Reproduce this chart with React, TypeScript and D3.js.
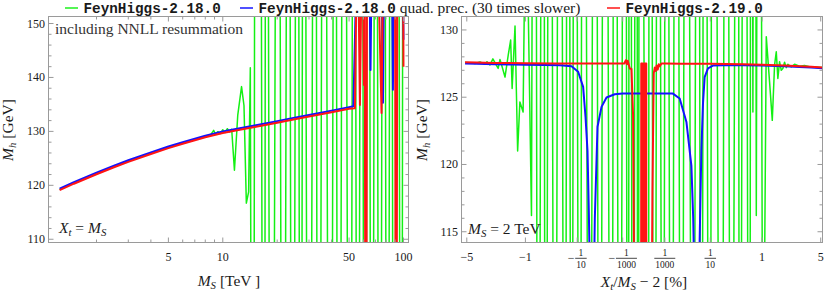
import {useEffect, useRef} from 'react';
import * as d3 from 'd3';

type Pt = [number, number];

// ---------- left panel: M_h [GeV] vs M_S [TeV], X_t = M_S ----------
const leftGreen: Pt[] = [
    [1.25, 119.25], [1.5, 120.45], [2, 122.2], [2.5, 123.5], [3, 124.5], [4, 125.95], [5, 127.05], [6, 127.85],
    [8, 129.05], [8.6, 129.45], [8.9, 130.2], [9.1, 129.5], [9.4, 129.95], [9.7, 129.6], [10.0, 130.3],
    [10.3, 129.8], [10.6, 130.5], [10.9, 129.9], [11.2, 130.4], [11.6, 122.8], [12.1, 133.0], [12.7, 138.3],
    [13.1, 134.8], [13.5, 116.7], [13.9, 118.8], [14.2, 141.8], [14.7, -50], [15.2, 300], [16.0, 300],
    [16.4, 137.4], [16.9, -50], [17.4, 300], [18.6, -50], [20.2, 300], [21.6, -50], [23.1, 300], [24.3, -50],
    [25.9, 300], [27.0, -50], [28.0, 300], [30.0, -50], [32.4, 300], [33.8, -50], [36.3, 300], [39.4, -50],
    [41.8, 300], [43.7, -50], [46.9, 300], [50.6, -50], [53.2, 300], [56.0, -50], [58.5, 300], [61.2, -50],
    [63.9, 300], [66.8, -50], [70.3, 300], [73.9, -50], [77.7, 300], [81.7, -50], [85.3, 300], [88.6, -50],
    [92.7, 300], [97.4, -50], [100, 300],
];

const leftBlue: Pt[] = [
    [1.25, 119.4], [1.5, 120.6], [2, 122.35], [2.5, 123.65], [3, 124.65], [4, 126.1], [5, 127.2], [6, 128.0],
    [8, 129.2], [10, 130.0], [12, 130.5], [15, 131.1], [20, 131.9], [25, 132.55], [30, 133.05], [40, 133.85],
    [50, 134.5], [52.8, 134.65], [55.0, 160], [64.8, 160], [65.7, 141.4], [66.6, 160], [76.0, 160],
    [77.0, 135.3], [78.0, 160], [86.4, 160], [87.4, 137.7], [88.4, 160], [99.2, 160], [100, 147],
];

const leftRed: Pt[] = [
    [1.25, 119.1], [1.5, 120.3], [2, 122.05], [2.5, 123.35], [3, 124.35], [4, 125.8], [5, 126.9], [6, 127.7],
    [8, 128.9], [10, 129.7], [12, 130.2], [15, 130.8], [20, 131.6], [25, 132.25], [30, 132.75], [40, 133.55],
    [50, 134.2], [53.9, 134.3], [55.0, 160], [56.2, 160], [57.4, 134.9], [58.6, 160], [59.7, 160],
    [60.4, 138.6], [61.0, 160], [61.7, 60], [62.2, 60], [62.8, 160], [72.5, 160], [75.6, 133.4], [77.0, 160],
    [89.8, 160], [90.8, 60], [91.4, 60], [92.4, 160], [99.5, 160], [100, 142],
];

const leftYMajor = [110, 120, 130, 140, 150];
const leftYMinor = [112, 114, 116, 118, 122, 124, 126, 128, 132, 134, 136, 138, 142, 144, 146, 148];
const leftXMajor = [5, 10, 50, 100];
const leftXMinor = [2, 3, 4, 6, 7, 8, 9, 20, 30, 40, 60, 70, 80, 90];
const leftXLabels = ['5', '10', '50', '100'];

// ---------- right panel: M_h [GeV] vs X_t/M_S - 2 [%], M_S = 2 TeV ----------
const rightGreen: Pt[] = [
    [-5.2, 127.58], [-4.65, 127.56], [-4.14, 127.5], [-3.67, 127.62], [-3.24, 127.45], [-3.08, 127.64],
    [-2.85, 127.4], [-2.64, 127.85], [-2.39, 127.35], [-2.29, 127.14], [-2.18, 127.8], [-2.06, 127.3],
    [-1.89, 126.5], [-1.72, 128.13], [-1.6, 129.25], [-1.53, 125.65], [-1.4, 130.3], [-1.29, 121.0],
    [-1.2, 124.65], [-1.08, 123.9], [-1.02, 135], [-0.93, 135], [-0.81, 116.2], [-0.72, 200],
    [-0.633, 60], [-0.5215, 200], [-0.4735, 60], [-0.3959, 200], [-0.3181, 60], [-0.2525, 200],
    [-0.1975, 60], [-0.1665, 200], [-0.1386, 60], [-0.115, 200], [-0.0851, 60], [-0.0688, 200],
    [-0.0431, 60], [-0.0292, 200], [-0.019, 60], [-0.01173, 200], [-0.00552, 60], [-0.00359, 200],
    [-0.00168, 60], [-0.00066, 200], [-0.000308, 60], [-0.000195, 200], [-0.0000665, 60], [-0.0000144, 200],
    [-0.00000535, 60], [-0.0000013, 200], [0.00000173, 60], [0.00000657, 200], [0.0000742, 60],
    [0.000212, 200], [0.000704, 60], [0.00135, 200], [0.00299, 60], [0.0058, 200], [0.01024, 60],
    [0.01686, 200], [0.02995, 60], [0.0441, 200], [0.0562, 60], [0.0702, 200], [0.0962, 60], [0.117, 200],
    [0.1848, 60], [0.2372, 200], [0.3, 60], [0.401, 200], [0.4307, 60], [0.5277, 200], [0.6402, 60],
    [0.68, 200], [0.7238, 123.9], [0.77, 200], [0.8182, 116.2], [0.9, 200], [1.0274, 95], [1.1494, 129.5],
    [1.278, 126.14], [1.3915, 123.28], [1.4936, 127.39], [1.5725, 128.38], [1.6497, 126.4], [1.735, 127.64],
    [1.823, 127.0], [1.909, 127.14], [2.005, 127.6], [2.103, 127.2], [2.199, 127.45], [2.413, 127.25],
    [2.637, 127.45], [3.004, 127.3], [3.407, 127.35], [3.85, 127.27], [5.2, 127.2],
];

const rightBlue: Pt[] = [
    [-5.2, 127.5], [-4, 127.48], [-2.5, 127.45], [-1.5, 127.43], [-1, 127.42], [-0.5, 127.4], [-0.25, 127.38],
    [-0.1386, 127.3], [-0.0945, 126.89], [-0.0688, 125.77], [-0.0586, 123.53], [-0.051, 121.0],
    [-0.0464, 116.5], [-0.04, 108], [-0.033, 108], [-0.0292, 116.0], [-0.0233, 122.8], [-0.0162, 124.28],
    [-0.0098, 124.98], [-0.0036, 125.22], [-0.001, 125.27], [-0.0001, 125.28], [0.0001, 125.28],
    [0.001, 125.28], [0.0037, 125.27], [0.0085, 124.9], [0.0169, 123.16], [0.0263, 119.9], [0.0305, 116],
    [0.036, 108], [0.046, 108], [0.0499, 114.5], [0.0562, 121.0], [0.0627, 124.5], [0.0702, 126.5],
    [0.0867, 127.15], [0.117, 127.35], [0.2, 127.38], [0.5, 127.37], [1, 127.35], [2, 127.3], [3, 127.25],
    [4, 127.21], [5.2, 127.16],
];

const rightRed: Pt[] = [
    [-5.2, 127.6], [-4, 127.58], [-2.5, 127.55], [-1, 127.52], [-0.3, 127.51], [-0.05, 127.5], [-0.005, 127.5],
    [-0.00075, 127.5], [-0.00052, 127.75], [-0.00042, 127.45], [-0.00033, 127.7], [-0.000195, 127.14],
    [-0.000116, 127.1], [-0.0000665, 123.7], [-0.0000333, 105], [-0.00000025, 100], [-0.0000002, 127.5],
    [-0.00000012, 100], [-0.00000006, 127.5], [-0.000000025, 100], [-0.000000008, 127.5],
    [-0.0000000015, 100], [0, 127.5], [0.0000000015, 100], [0.000000008, 127.5], [0.000000025, 100],
    [0.00000006, 127.5], [0.00000012, 100], [0.0000002, 127.5], [0.00000025, 100], [0.0000178, 105],
    [0.000029, 118], [0.0000507, 126.77], [0.000075, 127.2], [0.000105, 126.95], [0.00014, 127.35],
    [0.000195, 127.05], [0.00026, 127.45], [0.00033, 127.3], [0.0005, 127.5], [0.001, 127.5], [0.01, 127.49],
    [0.1, 127.48], [0.5, 127.45], [1, 127.42], [2, 127.36], [3, 127.3], [4, 127.26], [5.2, 127.2],
];

const rightYMajor = [115, 120, 125, 130];
const rightYMinor = [116, 117, 118, 119, 121, 122, 123, 124, 126, 127, 128, 129];
const rightXMajor = [-5, -1, -0.1, -0.001, 0.001, 0.1, 1, 5];
const rightXLabels = ['−5', '−1', '−1/10', '−1/1000', '1/1000', '1/10', '1', '5'];

const legendNames = ['FeynHiggs-2.18.0', 'FeynHiggs-2.18.0', 'FeynHiggs-2.19.0'];
const legendNote = ' quad. prec. (30 times slower)';

const SERIF = '"Liberation Serif", "Times New Roman", serif';
const MONO = '"Liberation Mono", "Courier New", monospace';
const GREEN = '#14f014';
const BLUE = '#1212ff';
const RED = '#ff1414';
const FRAME = '#9a9a9a';
const INK = '#1a1a1a';

type Part = { s: string, it?: boolean, sub?: boolean };

const mathText = (t: any, parts: Part[], size: number) => {
    let inSub = false;
    parts.forEach(p => {
        const ts = t.append('tspan').text(p.s).attr('font-style', p.it ? 'italic' : 'normal');
        if (p.sub) {
            ts.attr('font-size', size * 0.7);
            if (!inSub) ts.attr('dy', size * 0.22);
            inSub = true;
        } else {
            ts.attr('font-size', size);
            if (inSub) ts.attr('dy', -size * 0.22);
            inSub = false;
        }
    });
};

const App = () => {
    const ref = useRef<SVGSVGElement>(null);

    useEffect(() => {
        const svg = d3.select(ref.current);
        svg.selectAll('*').remove();
        svg.append('rect').attr('width', 830).attr('height', 298).attr('fill', 'white');

        const top = 16.5, bottom = 242.5;
        const defs = svg.append('defs');

        const panels = [
            {
                id: 'pl',
                x: d3.scaleLog().domain([1.085, 106.6]).range([48.5, 408.5]),
                y: d3.scaleLinear().domain([109.4, 151.3]).range([bottom, top]),
                series: [[leftGreen, GREEN, 1.5], [leftBlue, BLUE, 2], [leftRed, RED, 2]] as [Pt[], string, number][],
                yMajor: leftYMajor, yMinor: leftYMinor, xMajor: leftXMajor, xMinor: leftXMinor, xLabels: leftXLabels,
            },
            {
                id: 'pr',
                x: d3.scalePow().exponent(0.25).domain([-5.625, 5.206]).range([461.5, 822.5]),
                y: d3.scaleLinear().domain([114.2, 131]).range([bottom, top]),
                series: [[rightGreen, GREEN, 1.5], [rightBlue, BLUE, 2], [rightRed, RED, 2]] as [Pt[], string, number][],
                yMajor: rightYMajor, yMinor: rightYMinor, xMajor: rightXMajor, xMinor: [] as number[], xLabels: rightXLabels,
            },
        ];

        panels.forEach(p => {
            const [x0, x1] = p.x.range();
            defs.append('clipPath').attr('id', `clip-${p.id}`)
                .append('rect').attr('x', x0).attr('y', top).attr('width', x1 - x0).attr('height', bottom - top);

            const plot = svg.append('g').attr('clip-path', `url(#clip-${p.id})`);
            const line = d3.line<Pt>().x(d => p.x(d[0])).y(d => p.y(d[1]));
            p.series.forEach(([data, color, w]) => {
                plot.append('path')
                    .attr('d', line(data))
                    .attr('fill', 'none')
                    .attr('stroke', color)
                    .attr('stroke-width', w)
                    .attr('stroke-linejoin', 'round');
            });

            const g = svg.append('g');
            g.append('rect')
                .attr('x', x0).attr('y', top).attr('width', x1 - x0).attr('height', bottom - top)
                .attr('fill', 'none').attr('stroke', FRAME).attr('stroke-width', 1);

            const tick = (ax: number, ay: number, bx: number, by: number) =>
                g.append('line').attr('x1', ax).attr('y1', ay).attr('x2', bx).attr('y2', by)
                    .attr('stroke', FRAME).attr('stroke-width', 1);

            p.yMajor.forEach(v => { const yy = p.y(v); tick(x0, yy, x0 + 5, yy); tick(x1, yy, x1 - 5, yy); });
            p.yMinor.forEach(v => { const yy = p.y(v); tick(x0, yy, x0 + 3, yy); tick(x1, yy, x1 - 3, yy); });
            p.xMajor.forEach(v => { const xx = p.x(v); tick(xx, bottom, xx, bottom - 5); tick(xx, top, xx, top + 5); });
            p.xMinor.forEach(v => { const xx = p.x(v); tick(xx, bottom, xx, bottom - 3); tick(xx, top, xx, top + 3); });

            p.yMajor.forEach(v => {
                g.append('text').attr('x', x0 - 3.5).attr('y', p.y(v) + 4)
                    .attr('text-anchor', 'end').attr('font-family', SERIF).attr('font-size', 12)
                    .attr('fill', INK).text(String(v));
            });

            p.xMajor.forEach((v, i) => {
                const label = p.xLabels[i];
                const xx = p.x(v);
                if (!label.includes('/')) {
                    g.append('text').attr('x', xx).attr('y', 261)
                        .attr('text-anchor', 'middle').attr('font-family', SERIF).attr('font-size', 12)
                        .attr('fill', INK).text(label);
                    return;
                }
                const neg = label.startsWith('−');
                const [num, den] = label.replace('−', '').split('/');
                const fs = 9.5;
                const barW = den.length * fs * 0.5 + 2;
                const minusW = neg ? 7.5 : 0;
                const start = xx - (minusW + barW) / 2;
                if (neg) {
                    g.append('text').attr('x', start).attr('y', 261.5).attr('font-family', SERIF)
                        .attr('font-size', 12).attr('fill', INK).text('−');
                }
                const bx = start + minusW;
                g.append('line').attr('x1', bx).attr('x2', bx + barW).attr('y1', 258.3).attr('y2', 258.3)
                    .attr('stroke', INK).attr('stroke-width', 0.8);
                g.append('text').attr('x', bx + barW / 2).attr('y', 255.5).attr('text-anchor', 'middle')
                    .attr('font-family', SERIF).attr('font-size', fs).attr('fill', INK).text(num);
                g.append('text').attr('x', bx + barW / 2).attr('y', 268).attr('text-anchor', 'middle')
                    .attr('font-family', SERIF).attr('font-size', fs).attr('fill', INK).text(den);
            });
        });

        const fs = 15.5;
        const label = (x: number, y: number, parts: Part[], anchor = 'start', rotate = false) => {
            const t = svg.append('text')
                .attr('x', rotate ? 0 : x).attr('y', rotate ? 0 : y)
                .attr('text-anchor', anchor).attr('font-family', SERIF).attr('font-size', fs).attr('fill', INK);
            if (rotate) t.attr('transform', `translate(${x},${y}) rotate(-90)`);
            mathText(t, parts, fs);
        };

        // axis titles
        const mh: Part[] = [{s: 'M', it: true}, {s: 'h', it: true, sub: true}, {s: ' [GeV]'}];
        label(12.5, 130, mh, 'middle', true);
        label(427, 130, mh, 'middle', true);
        label(229, 286, [{s: 'M', it: true}, {s: 'S', it: true, sub: true}, {s: ' [TeV ]'}], 'middle');
        label(644, 287, [{s: 'X', it: true}, {s: 't', it: true, sub: true}, {s: '/'}, {s: 'M', it: true},
            {s: 'S', it: true, sub: true}, {s: ' − 2  [%]'}], 'middle');

        // annotations
        svg.append('text').attr('x', 55).attr('y', 34).attr('font-family', SERIF).attr('font-size', fs)
            .attr('fill', '#333').text('including NNLL resummation');
        label(59, 233, [{s: 'X', it: true}, {s: 't', it: true, sub: true}, {s: ' = '}, {s: 'M', it: true},
            {s: 'S', it: true, sub: true}]);
        label(468, 234, [{s: 'M', it: true}, {s: 'S', it: true, sub: true}, {s: ' = 2 TeV'}]);

        // legend
        const legendColors = ['#55f555', '#5050ff', '#ff5050'];
        const legendX = [65, 240, 607];
        legendNames.forEach((name, i) => {
            svg.append('line').attr('x1', legendX[i]).attr('x2', legendX[i] + 13).attr('y1', 8).attr('y2', 8)
                .attr('stroke', legendColors[i]).attr('stroke-width', 2);
            const t = svg.append('text').attr('x', legendX[i] + 18.5).attr('y', 12.5).attr('fill', INK);
            t.append('tspan').attr('font-family', MONO).attr('font-weight', 'bold').attr('font-size', 14.3).text(name);
            if (i === 1) {
                t.append('tspan').attr('font-family', SERIF).attr('font-size', fs).text(legendNote);
            }
        });
    }, []);

    return <svg ref={ref} width={830} height={298} style={{position: 'absolute', left: 0, top: 0}}/>;
};

export default App;
